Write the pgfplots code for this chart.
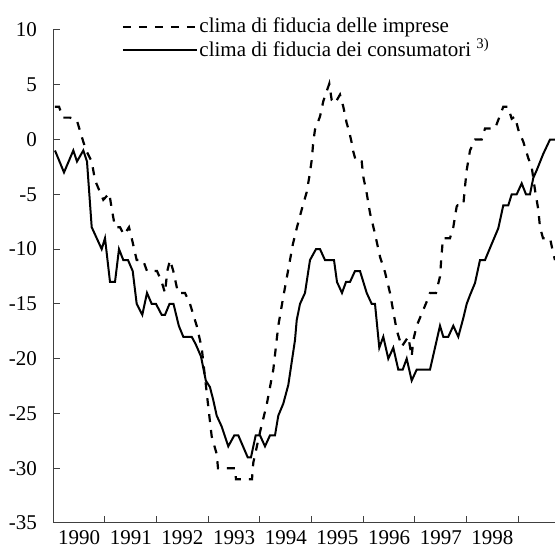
\documentclass[border=0pt]{standalone}
\usepackage{fontspec}
\setmainfont{Liberation Serif}
\usepackage{pgfplots}
\pgfplotsset{compat=1.18}
\begin{document}
\begin{tikzpicture}[font=\fontsize{21}{25}\selectfont]
\begin{axis}[
  scale only axis, width=501.7pt, height=493pt,
  xmin=0, xmax=9.7097, ymin=-35, ymax=10,
  axis x line*=bottom, axis y line*=left,
  axis line style={black!75, line width=1pt},
  tick style={black!75, line width=1pt},
  tick align=inside, major tick length=7pt,
  ytick={-35,-30,-25,-20,-15,-10,-5,0,5,10},
  yticklabels={-35,-30,-25,-20,-15,-10,-5,0,5,10},
  yticklabel style={xshift=-13pt},
  xtick={1,2,3,4,5,6,7,8,9}, xticklabels={},
  extra x ticks={0.5,1.5,2.5,3.5,4.5,5.5,6.5,7.5,8.5},
  extra x tick labels={1990,1991,1992,1993,1994,1995,1996,1997,1998},
  extra x tick style={major tick length=0pt, xticklabel style={yshift=-4.5pt}},
  legend style={at={(0.136,1.029)}, anchor=north west, draw=none, fill=none,
    inner sep=0pt, row sep=2pt, column sep=0pt,
    nodes={inner sep=1.5pt}},
  legend cell align=left,
  legend image code/.code={\draw[#1] (0pt,-1.5pt) -- (74pt,-1.5pt);},
]
\addplot[black, line width=2.2pt, dash pattern=on 8pt off 8pt] coordinates {
(0.0329,3)(0.1103,3)(0.1877,2)(0.3232,2)(0.4529,1.8)(0.5806,-0.2)(0.6464,-1.1)
(0.7432,-2)(0.8070,-3.7)(0.9038,-4.8)(0.9677,-5.5)(1.0838,-4.9)(1.1303,-6.3)
(1.1941,-8)(1.2909,-8)(1.3683,-8.7)(1.4651,-8)(1.5173,-9)(1.6141,-11)(1.7360,-11)
(1.8134,-12)(2.0070,-12)(2.0979,-13)(2.1618,-14)(2.2063,-12)(2.2586,-11)(2.3224,-12)
(2.4134,-14)(2.5489,-14)(2.6456,-15)(2.7753,-17)(2.8721,-19)(2.9360,-21.7)
(2.9998,-24.4)(3.0656,-27.1)(3.1624,-28.7)(3.1876,-30)(3.5166,-30)(3.5359,-31)
(3.8456,-31)(3.8707,-29.5)(4.0004,-26.7)(4.1301,-24.2)(4.2578,-21)(4.3546,-17)
(4.4455,-14.5)(4.5423,-12)(4.6390,-9.5)(4.7164,-8)(4.8074,-6.4)(4.9042,-4.8)
(4.9545,-3.4)(5.0010,-1.9)(5.0319,-0.2)(5.0648,0.9)(5.1616,2.1)(5.2255,3.5)
(5.3416,5.1)(5.3881,3.6)(5.4519,3.3)(5.5487,4.1)(5.6126,3)(5.6784,1.5)(5.7287,0.7)
(5.7752,-0.3)(5.8061,-1.1)(5.8584,-2)(5.9687,-2)(5.9997,-3.4)(6.0655,-4.9)
(6.1293,-6.7)(6.2261,-8.6)(6.3228,-10.7)(6.4196,-12.1)(6.5164,-14)(6.5802,-15.7)
(6.6460,-17.4)(6.7428,-18.9)(6.8705,-18)(6.9363,-19.8)(6.9673,-18.3)(7.0331,-17)
(7.1299,-15.9)(7.2266,-14.8)(7.2905,-14)(7.4066,-14)(7.4840,-12.5)(7.5169,-10.4)
(7.5421,-9)(7.6776,-9)(7.7415,-8)(7.8073,-6.1)(7.8266,-6)(7.9350,-6)(7.9679,-4.3)
(8.0008,-2.8)(8.0646,-1)(8.1614,0)(8.2911,0)(8.3550,1)(8.5485,1)(8.6453,2.2)
(8.7091,3)(8.8001,3)(8.8717,1.9)(8.9356,2.1)(8.9994,0.9)(9.0962,-0.2)(9.1930,-1.7)
(9.2588,-2.5)(9.3226,-4.6)(9.3865,-6.4)(9.4194,-8)(9.4775,-9)(9.6129,-9)
(9.6768,-10.4)(9.7097,-11)
};
\addlegendentry{clima di fiducia delle imprese}
\addplot[black, line width=2pt, line join=miter] coordinates {
(0.0329,-1)(0.2071,-3)(0.3871,-1)(0.4587,-2)(0.5806,-1)(0.6522,-2)(0.7432,-8)
(0.9367,-10)(1.0006,-9)(1.0974,-13)(1.1941,-13)(1.2715,-10)(1.3548,-11)(1.4457,-11)
(1.5367,-12)(1.6141,-15)(1.7225,-16)(1.8134,-14)(1.9044,-15)(1.9876,-15)(2.0979,-16)
(2.1618,-16)(2.2489,-15)(2.3263,-15)(2.4289,-17)(2.5160,-18)(2.6786,-18)(2.7579,-18.7)
(2.8585,-19.8)(2.9514,-22)(3.0327,-22.6)(3.0966,-23.8)(3.1624,-25.2)(3.2592,-26.2)
(3.3869,-28)(3.5030,-27)(3.5805,-27)(3.7624,-29)(3.8262,-29)(3.9172,-27)(4.0004,-27)
(4.0972,-28)(4.1940,-27)(4.2907,-27)(4.3546,-25.2)(4.4514,-24.1)(4.5481,-22.4)
(4.6778,-18.3)(4.7107,-16.5)(4.7746,-15)(4.8713,-14)(4.9681,-11)(5.0842,-10)
(5.1616,-10)(5.2584,-11)(5.4326,-11)(5.4906,-13)(5.5874,-14)(5.6648,-13)(5.7422,-13)
(5.8390,-12)(5.9357,-12)(6.0655,-14)(6.1622,-15)(6.2261,-15)(6.3093,-19)(6.3867,-18)
(6.4835,-20)(6.5802,-19)(6.6770,-21)(6.7622,-21)(6.8396,-20)(6.9363,-22)(7.0331,-21)
(7.2905,-21)(7.4840,-17)(7.5479,-18)(7.6447,-18)(7.7415,-17)(7.8382,-18)(7.9350,-16.3)
(8.0008,-15)(8.0646,-14.2)(8.1614,-13.1)(8.2582,-11)(8.3550,-11)(8.4517,-9.9)
(8.6123,-8.1)(8.7091,-6)(8.8059,-6)(8.8717,-5)(8.9685,-5)(9.0652,-4)(9.1484,-5)
(9.2258,-5)(9.2897,-3.5)(9.3555,-2.8)(9.4833,-1.3)(9.6129,0)(9.7097,0)
};
\addlegendentry{clima di fiducia dei consumatori \textsuperscript{3)}}
\coordinate (O) at (rel axis cs:0,0);
\node[anchor=base west, inner sep=0pt, font=\itshape\fontsize{21}{25}\selectfont]
  at ([xshift=-30.3pt,yshift=520pt]O) {(saldi percentuali; dati destagionalizzati)};
\end{axis}
\pgfresetboundingbox
\path[use as bounding box] ([xshift=-53.3pt,yshift=-29pt]O) rectangle ([xshift=501.7pt,yshift=523pt]O);
\end{tikzpicture}
\end{document}
